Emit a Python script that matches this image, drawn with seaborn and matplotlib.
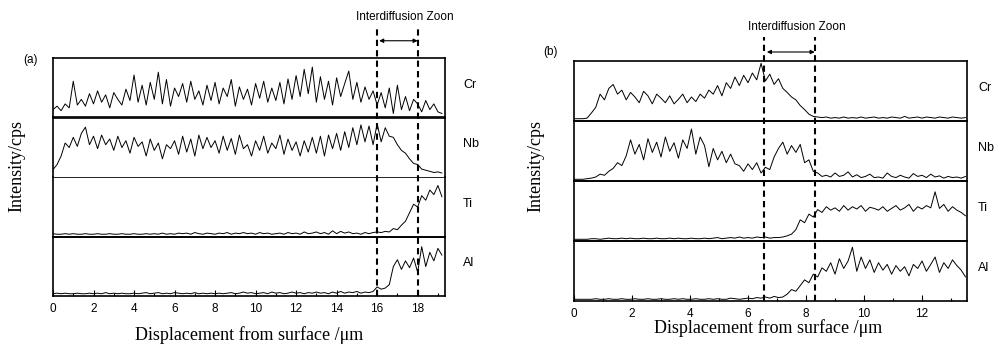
import numpy as np
import pandas as pd
import matplotlib
matplotlib.use("Agg")
import matplotlib.pyplot as plt
import seaborn as sns

# ---- data (fraction of strip height) ----
elements = ["Cr", "Nb", "Ti", "Al"]

x_a = np.round(np.arange(0, 19.3, 0.2), 2)          # panel (a), µm
cr_a = [0.12, 0.18, 0.10, 0.22, 0.15, 0.62, 0.20, 0.30,
        0.18, 0.40, 0.22, 0.45, 0.25, 0.38, 0.15, 0.42,
        0.30, 0.20, 0.48, 0.28, 0.73, 0.25, 0.55, 0.20,
        0.60, 0.30, 0.78, 0.22, 0.65, 0.18, 0.50, 0.35,
        0.58, 0.25, 0.62, 0.30, 0.45, 0.20, 0.55, 0.28,
        0.60, 0.22, 0.50, 0.35, 0.65, 0.18, 0.52, 0.30,
        0.48, 0.20, 0.58, 0.32, 0.62, 0.25, 0.50, 0.28,
        0.60, 0.22, 0.66, 0.30, 0.72, 0.35, 0.83, 0.40,
        0.87, 0.25, 0.70, 0.30, 0.62, 0.20, 0.68, 0.35,
        0.58, 0.80, 0.30, 0.60, 0.25, 0.52, 0.30, 0.45,
        0.20, 0.42, 0.15, 0.50, 0.05, 0.55, 0.12, 0.35,
        0.10, 0.30, 0.22, 0.08, 0.28, 0.12, 0.22, 0.08,
        0.05]
nb_a = [0.11, 0.20, 0.35, 0.58, 0.50, 0.68, 0.52, 0.75,
        0.86, 0.55, 0.70, 0.48, 0.72, 0.55, 0.65, 0.45,
        0.70, 0.50, 0.62, 0.40, 0.68, 0.52, 0.60, 0.35,
        0.65, 0.45, 0.58, 0.30, 0.55, 0.48, 0.62, 0.38,
        0.70, 0.42, 0.65, 0.35, 0.72, 0.48, 0.68, 0.50,
        0.62, 0.40, 0.70, 0.45, 0.66, 0.38, 0.72, 0.48,
        0.55, 0.35, 0.62, 0.45, 0.70, 0.40, 0.58, 0.48,
        0.72, 0.38, 0.65, 0.45, 0.60, 0.35, 0.62, 0.42,
        0.68, 0.40, 0.70, 0.35, 0.72, 0.48, 0.75, 0.45,
        0.78, 0.50, 0.85, 0.55, 0.90, 0.60, 0.88, 0.55,
        0.92, 0.60, 0.85, 0.70, 0.68, 0.55, 0.45, 0.40,
        0.30, 0.22, 0.20, 0.12, 0.10, 0.08, 0.06, 0.07,
        0.05]
ti_a = [0.03, 0.02, 0.02, 0.03, 0.02, 0.03, 0.02, 0.02,
        0.03, 0.02, 0.02, 0.03, 0.02, 0.02, 0.03, 0.02,
        0.02, 0.03, 0.02, 0.02, 0.03, 0.02, 0.02, 0.03,
        0.02, 0.03, 0.02, 0.04, 0.02, 0.03, 0.02, 0.04,
        0.03, 0.04, 0.02, 0.05, 0.03, 0.02, 0.04, 0.03,
        0.02, 0.04, 0.03, 0.05, 0.02, 0.04, 0.03, 0.05,
        0.03, 0.04, 0.02, 0.05, 0.03, 0.04, 0.02, 0.03,
        0.04, 0.02, 0.05, 0.03, 0.04, 0.02, 0.06, 0.03,
        0.04, 0.06, 0.03, 0.05, 0.02, 0.08, 0.03, 0.07,
        0.04, 0.06, 0.03, 0.04, 0.02, 0.05, 0.03, 0.05,
        0.06, 0.05, 0.07, 0.06, 0.12, 0.10, 0.18, 0.25,
        0.40, 0.55, 0.50, 0.70, 0.62, 0.80, 0.72, 0.88,
        0.68]
al_a = [0.02, 0.03, 0.02, 0.03, 0.02, 0.02, 0.03, 0.02,
        0.02, 0.03, 0.02, 0.03, 0.02, 0.04, 0.02, 0.03,
        0.02, 0.03, 0.02, 0.02, 0.03, 0.02, 0.03, 0.04,
        0.02, 0.03, 0.04, 0.02, 0.03, 0.02, 0.04, 0.03,
        0.02, 0.03, 0.02, 0.04, 0.02, 0.03, 0.02, 0.03,
        0.02, 0.03, 0.02, 0.03, 0.04, 0.02, 0.03, 0.05,
        0.03, 0.04, 0.02, 0.03, 0.04, 0.02, 0.05, 0.03,
        0.04, 0.02, 0.03, 0.05, 0.03, 0.04, 0.02, 0.04,
        0.03, 0.05, 0.03, 0.04, 0.02, 0.05, 0.03, 0.06,
        0.03, 0.05, 0.04, 0.06, 0.03, 0.05, 0.04, 0.06,
        0.14, 0.10, 0.12, 0.18, 0.50, 0.62, 0.45, 0.60,
        0.48, 0.65, 0.40, 0.85, 0.50, 0.75, 0.60, 0.82,
        0.70]

x_b = np.round(np.arange(0, 13.51, 0.15), 2)        # panel (b), µm
cr_b = [0.02, 0.02, 0.02, 0.03, 0.12, 0.22, 0.45, 0.35, 0.55, 0.62,
        0.45, 0.52, 0.35, 0.48, 0.40, 0.30, 0.50, 0.42, 0.28, 0.45,
        0.38, 0.30, 0.42, 0.28, 0.36, 0.45, 0.30, 0.40, 0.32, 0.45,
        0.38, 0.52, 0.45, 0.60, 0.42, 0.65, 0.55, 0.75, 0.60, 0.78,
        0.65, 0.82, 0.70, 0.99, 0.68, 0.80, 0.62, 0.72, 0.55, 0.48,
        0.40, 0.35, 0.25, 0.18, 0.10, 0.06, 0.05, 0.04, 0.05, 0.03,
        0.04, 0.03, 0.05, 0.03, 0.04, 0.03, 0.05, 0.03, 0.04, 0.05,
        0.03, 0.04, 0.03, 0.05, 0.04, 0.03, 0.06, 0.03, 0.04, 0.05,
        0.03, 0.05, 0.04, 0.03, 0.05, 0.04, 0.03, 0.05, 0.04, 0.03,
        0.04]
nb_b = [0.01, 0.01, 0.01, 0.02, 0.03, 0.05, 0.10, 0.08, 0.15, 0.20,
        0.30, 0.25, 0.42, 0.70, 0.45, 0.62, 0.35, 0.72, 0.48, 0.66,
        0.40, 0.75, 0.50, 0.65, 0.38, 0.70, 0.55, 0.89, 0.45, 0.75,
        0.60, 0.23, 0.55, 0.35, 0.50, 0.30, 0.45, 0.28, 0.25, 0.15,
        0.28, 0.18, 0.30, 0.12, 0.22, 0.18, 0.40, 0.55, 0.66, 0.45,
        0.60, 0.48, 0.62, 0.30, 0.35, 0.15, 0.12, 0.06, 0.08, 0.05,
        0.12, 0.06, 0.08, 0.14, 0.05, 0.09, 0.04, 0.06, 0.10, 0.04,
        0.05, 0.03, 0.12, 0.06, 0.04, 0.08, 0.05, 0.03, 0.11, 0.06,
        0.08, 0.04, 0.10, 0.05, 0.07, 0.03, 0.06, 0.04, 0.05, 0.03,
        0.06]
ti_b = [0.01, 0.01, 0.01, 0.01, 0.02, 0.02, 0.01, 0.02, 0.03, 0.02,
        0.02, 0.03, 0.02, 0.03, 0.02, 0.02, 0.03, 0.02, 0.02, 0.03,
        0.02, 0.02, 0.03, 0.02, 0.03, 0.02, 0.02, 0.03, 0.02, 0.02,
        0.03, 0.02, 0.03, 0.04, 0.02, 0.03, 0.04, 0.03, 0.05, 0.03,
        0.04, 0.03, 0.05, 0.04, 0.05, 0.03, 0.04, 0.04, 0.05, 0.07,
        0.10, 0.18, 0.35, 0.30, 0.45, 0.40, 0.53, 0.48, 0.58, 0.52,
        0.56, 0.50, 0.60, 0.52, 0.58, 0.54, 0.60, 0.50, 0.57, 0.55,
        0.52, 0.58, 0.50, 0.55, 0.60, 0.52, 0.56, 0.62, 0.50, 0.58,
        0.54, 0.60, 0.56, 0.84, 0.55, 0.62, 0.50, 0.58, 0.52, 0.48,
        0.42]
al_b = [0.01, 0.01, 0.01, 0.01, 0.01, 0.02, 0.01, 0.01, 0.02, 0.01,
        0.01, 0.02, 0.01, 0.01, 0.02, 0.01, 0.01, 0.02, 0.01, 0.01,
        0.02, 0.01, 0.01, 0.02, 0.01, 0.02, 0.01, 0.01, 0.02, 0.01,
        0.01, 0.02, 0.01, 0.02, 0.01, 0.01, 0.03, 0.02, 0.01, 0.02,
        0.03, 0.02, 0.04, 0.03, 0.05, 0.03, 0.06, 0.04, 0.05, 0.10,
        0.18, 0.15, 0.25, 0.35, 0.30, 0.45, 0.40, 0.56, 0.50, 0.65,
        0.45, 0.72, 0.55, 0.68, 0.92, 0.50, 0.75, 0.55, 0.70, 0.48,
        0.65, 0.52, 0.62, 0.45, 0.60, 0.50, 0.58, 0.42, 0.62, 0.55,
        0.68, 0.50, 0.62, 0.75, 0.48, 0.65, 0.55, 0.70, 0.60, 0.52,
        0.40]

zone_a = [16.0, 18.0]
zone_b = [6.55, 8.3]
xticks_a = [0, 2, 4, 6, 8, 10, 12, 14, 16, 18]
xticks_b = [0, 2, 4, 6, 8, 10, 12]

SANS = "Liberation Sans"
SERIF = "Liberation Serif"
W, H = 1000, 347

sns.set_theme(style="white")
plt.rcParams["font.family"] = [SANS, "DejaVu Sans"]
plt.rcParams.update({"text.color": "black", "xtick.color": "black",
                     "ytick.color": "black", "axes.labelcolor": "black"})


def draw_panel(fig, box, x, series, xmax, xticks, zone, label_dx, zone_cfg,
               thin_mid=False):
    left, right, top, bottom = box
    h = (bottom - top) / 4
    axes = []
    for i, (name, y) in enumerate(zip(elements, series)):
        ax = fig.add_axes([left / W, 1 - (top + (i + 1) * h) / H,
                           (right - left) / W, h / H])
        ax.patch.set_visible(False)
        df = pd.DataFrame({"x": x, "y": y})
        sns.lineplot(data=df, x="x", y="y", ax=ax, color="black",
                     linewidth=0.7, estimator=None)
        ax.set_xlim(0, xmax)
        ax.set_ylim(-0.02, 1.03)
        ax.set_yticks([])
        ax.set_xlabel("")
        ax.set_ylabel("")
        for s in ax.spines.values():
            s.set_color("black")
            s.set_linewidth(1.2)
        ax.text(1 + label_dx, 0.55, name, transform=ax.transAxes,
                ha="left", va="center", fontsize=9, family=SANS, color="black")
        if i < 3:
            ax.set_xticks([])
        axes.append(ax)

    # panel (a) has a thin separator between Nb and Ti
    if thin_mid:
        axes[1].spines["bottom"].set_linewidth(0.6)
        axes[2].spines["top"].set_visible(False)

    bot = axes[-1]
    bot.set_xticks(xticks)
    bot.set_xticks(np.arange(1, xmax, 2), minor=True)
    bot.tick_params(axis="x", which="major", direction="in", length=4,
                    width=0.8, bottom=True, labelsize=8.5, pad=5,
                    colors="black")
    bot.tick_params(axis="x", which="minor", direction="in", length=2.5,
                    width=0.8, bottom=True, colors="black")
    for t in bot.get_xticklabels():
        t.set_family(SANS)

    # interdiffusion zone: dashed lines through all strips and above
    line_top, arrow_y, text_y = zone_cfg
    tr = bot.get_xaxis_transform()
    for zx in zone:
        bot.plot([zx, zx], [0, 4 + line_top], transform=tr, color="black",
                 linewidth=1.5, linestyle=(0, (3, 2)), clip_on=False, zorder=5)
    bot.annotate("", xy=(zone[1], 4 + arrow_y), xytext=(zone[0] + 0.1, 4 + arrow_y),
                 xycoords=tr, textcoords=tr,
                 arrowprops=dict(arrowstyle="<|-|>", color="black", lw=0.8,
                                 mutation_scale=6, shrinkA=0, shrinkB=0))
    bot.text(sum(zone) / 2 + (xmax * 0.02), 4 + text_y, "Interdiffusion Zoon",
             transform=tr, ha="center", va="center", fontsize=8.5, family=SANS,
             color="black")
    return axes


fig = plt.figure(figsize=(10, 3.47), dpi=100)

draw_panel(fig, (53, 445, 58, 296), x_a, [cr_a, nb_a, ti_a, al_a], 19.35,
           xticks_a, zone_a, 0.046, (0.52, 0.29, 0.69), thin_mid=True)
draw_panel(fig, (574, 967, 61, 301), x_b, [cr_b, nb_b, ti_b, al_b], 13.55,
           xticks_b, zone_b, 0.028, (0.40, 0.15, 0.57))

fig.text(30 / W, 1 - 60 / H, "(a)", ha="center", va="center", fontsize=8.5, family=SANS)
fig.text(550 / W, 1 - 52 / H, "(b)", ha="center", va="center", fontsize=8.5, family=SANS)

for xpx, ypx in [(17, 166), (536, 166)]:
    fig.text(xpx / W, 1 - ypx / H, "Intensity/cps", rotation=90, ha="center",
             va="center", fontsize=13, family=SERIF)
fig.text(249 / W, 1 - 335 / H, "Displacement from surface /\u03bcm", ha="center",
         va="center", fontsize=13, family=SERIF)
fig.text(768 / W, 1 - 328 / H, "Displacement from surface /\u03bcm", ha="center",
         va="center", fontsize=13, family=SERIF)

fig.savefig("out.png", dpi=100, facecolor="white")
